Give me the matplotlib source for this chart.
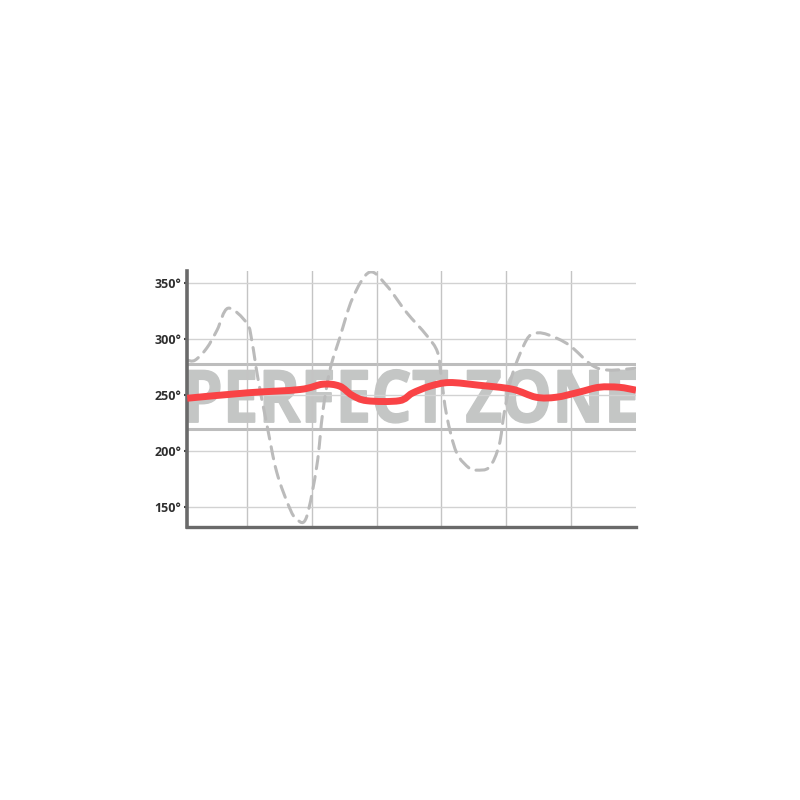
import matplotlib
matplotlib.use("Agg")
import matplotlib.pyplot as plt
import numpy as np
from matplotlib.textpath import TextPath
from matplotlib.patches import PathPatch
from matplotlib.path import Path
from matplotlib.font_manager import FontProperties
from matplotlib.transforms import Affine2D

# ---- data ----
y_ticks = [150, 200, 250, 300, 350]
y_tick_labels = ["150°", "200°", "250°", "300°", "350°"]
x_grid = [1, 2, 3, 4, 5, 6]

red_x = [0.08, 1.0, 1.82, 2.17, 2.43, 2.62, 2.85, 3.35, 3.55, 3.82, 4.12, 4.58,
         5.09, 5.46, 5.77, 6.12, 6.43, 6.74, 7.0]
red_y = [247.2, 252.0, 255.0, 259.7, 258.0, 250.0, 245.0, 245.0, 251.7, 257.9,
         261.2, 258.8, 255.3, 248.1, 248.1, 252.6, 257.0, 257.0, 254.4]

dash_x = [0.08, 0.2, 0.38, 0.54, 0.71, 1.0, 1.08, 1.17, 1.31, 1.46, 1.66, 1.78,
          1.92, 2.08, 2.17, 2.28, 2.43, 2.63, 2.89, 3.15, 3.46, 3.77, 3.94, 4.0,
          4.08, 4.23, 4.43, 4.54, 4.74, 4.89, 4.97, 5.09, 5.31, 5.46, 5.66, 5.97,
          6.32, 6.58, 7.0]
dash_y = [281.1, 281.1, 291.8, 307.9, 327.5, 314.1, 297.2, 265.1, 223.2, 181.4,
          149.2, 138.5, 141.2, 187.5, 234.8, 272.2, 300.7, 336.4, 359.6, 348.0,
          323.9, 303.4, 288.3, 265.1, 232.1, 199.1, 184.8, 183.1, 185.8, 205.4,
          234.8, 267.8, 299.0, 305.3, 303.5, 294.6, 276.7, 272.3, 274.0]

zone_low, zone_high = 219.9, 277.6
zone_label = "PERFECT ZONE"


def smooth_path(xs, ys, tension=0.5):
    """Catmull-Rom through the data points, as cubic Bezier segments."""
    p = np.column_stack([xs, ys]).astype(float)
    verts = [p[0]]
    codes = [Path.MOVETO]
    n = len(p)
    for i in range(n - 1):
        p0 = p[i - 1] if i > 0 else p[i]
        p1, p2 = p[i], p[i + 1]
        p3 = p[i + 2] if i + 2 < n else p[i + 1]
        c1 = p1 + (p2 - p0) * tension / 3.0
        c2 = p2 - (p3 - p1) * tension / 3.0
        verts += [c1, c2, p2]
        codes += [Path.CURVE4] * 3
    return Path(verts, codes)


# ---- figure ----
fig = plt.figure(figsize=(8, 8), dpi=100)
ax = fig.add_axes([0.234, 0.341, 0.561, 0.320])
ax.set_xlim(0.08, 7.0)
ax.set_ylim(132.2, 360.5)

ax.set_axisbelow(True)
ax.set_yticks(y_ticks)
ax.set_yticklabels(y_tick_labels)
ax.set_xticks(x_grid)
ax.set_xticklabels([])
ax.grid(True, axis="y", color="#d2d2d2", linewidth=1.0)
ax.grid(True, axis="x", color="#c4c4c4", linewidth=1.0)
ax.tick_params(axis="x", length=0)
ax.tick_params(axis="y", length=2, width=1.5, color="#444444", pad=2,
               labelsize=9, labelcolor="#2e2e2e")
for lab in ax.get_yticklabels():
    lab.set_family(["Open Sans", "DejaVu Sans"])
    lab.set_fontweight("bold")

for s in ["top", "right"]:
    ax.spines[s].set_visible(False)
ax.spines["left"].set_linewidth(2.6)
ax.spines["left"].set_color("#6a6a6a")
ax.spines["bottom"].set_linewidth(2.4)
ax.spines["bottom"].set_color("#6a6a6a")

# perfect zone band
ax.axhline(zone_high, color="#bdbdbd", linewidth=2.2, zorder=0.4)
ax.axhline(zone_low, color="#bdbdbd", linewidth=2.2, zorder=0.4)

# zone label stretched into box
fp = FontProperties(family="Open Sans", weight="bold")
tp = TextPath((0, 0), zone_label, size=10, prop=fp)
ext = tp.get_extents()
bx0, bx1 = 0.10, 7.0
by0, by1 = 225.2, 272.8
tr = (Affine2D().translate(-ext.x0, -ext.y0)
      .scale((bx1 - bx0) / ext.width, (by1 - by0) / ext.height)
      .translate(bx0, by0))
patch = PathPatch(tr.transform_path(tp), facecolor="#c4c6c5", edgecolor="#c4c6c5",
                  linewidth=1.0, zorder=0.3, transform=ax.transData)
ax.add_patch(patch)

# lines
dash_patch = PathPatch(smooth_path(dash_x, dash_y), facecolor="none",
                       edgecolor="#bbbbbb", linewidth=2.2, linestyle=(0, (4, 2.6)),
                       capstyle="round", joinstyle="round", zorder=2,
                       transform=ax.transData)
ax.add_patch(dash_patch)
red_patch = PathPatch(smooth_path(red_x, red_y), facecolor="none",
                      edgecolor="#f94346", linewidth=5, capstyle="butt",
                      joinstyle="round", zorder=3, transform=ax.transData)
ax.add_patch(red_patch)

fig.savefig("out.png", dpi=100, facecolor="white")
